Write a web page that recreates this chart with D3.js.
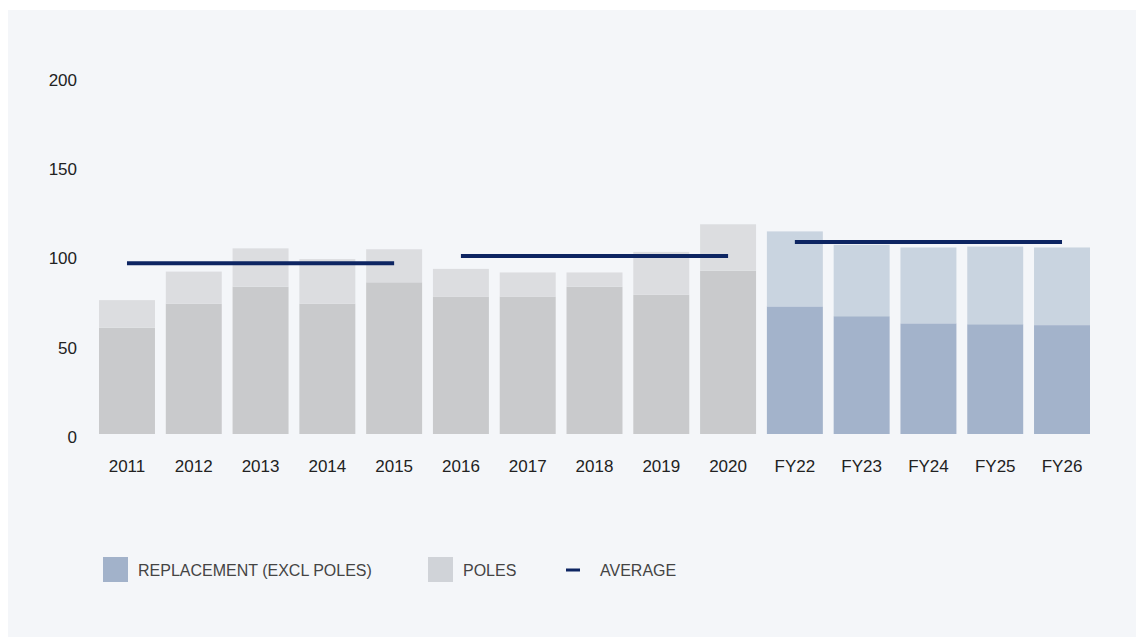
<!DOCTYPE html>
<html>
<head>
<meta charset="utf-8">
<script src="https://cdn.jsdelivr.net/npm/d3@7"></script>
<style>
  html, body { margin: 0; padding: 0; background: #ffffff; }
  svg { display: block; }
  text { font-family: "Liberation Sans", Arial, sans-serif; }
</style>
</head>
<body>
<svg id="chart" width="1146" height="637"></svg>
<script>
// Categories (calendar years, then forecast financial years)
const categories = ["2011","2012","2013","2014","2015","2016","2017","2018","2019","2020","FY22","FY23","FY24","FY25","FY26"];
// Replacement spend excluding poles
const replacement = [59.5, 73, 82.5, 73, 85, 77, 77, 82.5, 78, 91.5, 71.5, 66, 62, 61.5, 61];
// Pole spend, stacked on top of replacement
const poles = [15.5, 18, 21.5, 25, 18.5, 15.5, 13.5, 8, 24, 26, 42, 40, 42.5, 43.5, 43.5];
// Period averages: first/last category and value
const averages = [
  { from: "2011", to: "2015", value: 95.6 },
  { from: "2016", to: "2020", value: 99.7 },
  { from: "FY22", to: "FY26", value: 107.6 }
];
const yTicks = [0, 50, 100, 150, 200];
const forecast = ["FY22","FY23","FY24","FY25","FY26"];
const legendItems = [
  { label: "REPLACEMENT (EXCL POLES)", type: "box", color: "#a2b2ca" },
  { label: "POLES", type: "box", color: "#d0d3d8" },
  { label: "AVERAGE", type: "line", color: "#0d2562" }
];

const colors = {
  histReplacement: "#c9cacc",
  histPoles: "#dcdde0",
  fcReplacement: "#a3b3cb",
  fcPoles: "#c9d4e0",
  average: "#0d2562",
  panel: "#f4f6f9"
};

const axisFont = "Inter, \"Liberation Sans\", Arial, sans-serif";

const svg = d3.select("#chart");

// background panel
svg.append("rect")
  .attr("x", 8).attr("y", 10)
  .attr("width", 1128).attr("height", 627)
  .attr("fill", colors.panel);

const x = d3.scaleBand()
  .domain(categories)
  .range([99, 1090])
  .paddingInner(0.162)
  .paddingOuter(0);

const y = d3.scaleLinear()
  .domain([0, 200])
  .range([434, 77]);

// y axis labels
const yAxis = d3.axisLeft(y).tickValues(yTicks).tickSize(0).tickPadding(0);
svg.append("g")
  .attr("transform", "translate(77,3)")
  .call(yAxis)
  .call(g => g.select(".domain").remove())
  .call(g => g.selectAll("text")
    .attr("font-size", 17)
    .attr("fill", "#222")
    .attr("font-family", axisFont));

// x axis labels
const xAxis = d3.axisBottom(x).tickSize(0).tickPadding(0);
svg.append("g")
  .attr("transform", "translate(0,460)")
  .call(xAxis)
  .call(g => g.select(".domain").remove())
  .call(g => g.selectAll("text")
    .attr("font-size", 17)
    .attr("fill", "#222")
    .attr("font-family", axisFont));

const isFc = c => forecast.includes(c);
const rows = categories.map((c, i) => ({ c, r: replacement[i], p: poles[i] }));

// stacked bars
const bars = svg.append("g");
bars.selectAll("rect.rep")
  .data(rows).join("rect")
  .attr("class", "rep")
  .attr("x", d => x(d.c))
  .attr("width", x.bandwidth())
  .attr("y", d => y(d.r))
  .attr("height", d => y(0) - y(d.r))
  .attr("fill", d => isFc(d.c) ? colors.fcReplacement : colors.histReplacement);

bars.selectAll("rect.pol")
  .data(rows).join("rect")
  .attr("class", "pol")
  .attr("x", d => x(d.c))
  .attr("width", x.bandwidth())
  .attr("y", d => y(d.r + d.p))
  .attr("height", d => y(d.r) - y(d.r + d.p))
  .attr("fill", d => isFc(d.c) ? colors.fcPoles : colors.histPoles);

// average lines from centre of first bar to centre of last bar in each period
svg.append("g").selectAll("line")
  .data(averages).join("line")
  .attr("x1", d => x(d.from) + x.bandwidth() / 2)
  .attr("x2", d => x(d.to) + x.bandwidth() / 2)
  .attr("y1", d => y(d.value))
  .attr("y2", d => y(d.value))
  .attr("stroke", colors.average)
  .attr("stroke-width", 4);

// legend
const legendX = [103, 428, 566];
const legend = svg.append("g");
legendItems.forEach((item, i) => {
  const gx = legendX[i];
  let textX;
  if (item.type === "box") {
    legend.append("rect").attr("x", gx).attr("y", 557).attr("width", 25).attr("height", 25).attr("fill", item.color);
    textX = gx + 35;
  } else {
    legend.append("line").attr("x1", gx).attr("x2", gx + 14).attr("y1", 570).attr("y2", 570)
      .attr("stroke", item.color).attr("stroke-width", 3);
    textX = gx + 34;
  }
  legend.append("text")
    .attr("x", textX).attr("y", 575.5)
    .attr("fill", "#444")
    .attr("font-size", 16)
    .text(item.label);
});
</script>
</body>
</html>
